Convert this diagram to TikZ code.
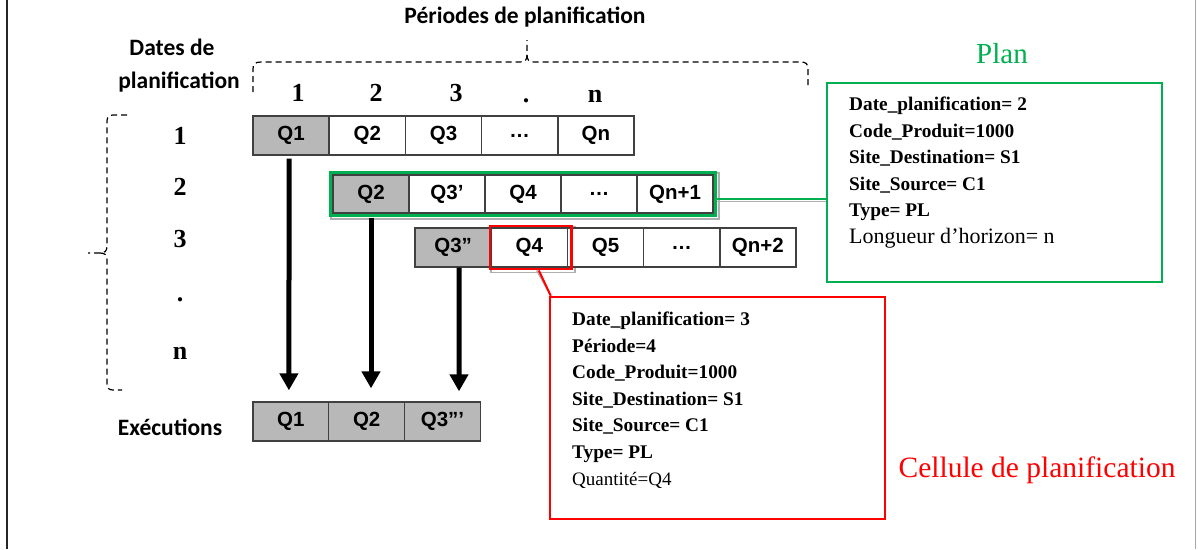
\documentclass[tikz,border=0pt]{standalone}
\usepackage{fontspec}
\setmainfont{Liberation Serif}
\newfontfamily\calibfont{Carlito}
\newfontfamily\arialfont{Liberation Sans}
\usetikzlibrary{arrows.meta,fit,calc,backgrounds}
\definecolor{plangreen}{RGB}{0,176,80}
\definecolor{cellred}{RGB}{255,0,0}
\definecolor{cellgray}{RGB}{184,184,184}
\definecolor{celledge}{RGB}{64,64,64}
\definecolor{shadowgray}{RGB}{175,175,175}
\begin{document}
\begin{tikzpicture}[x=1pt,y=-1pt,
  cell/.style={draw=celledge, line width=1.3pt, fill=white, minimum width=76pt, minimum height=39pt, inner sep=0pt, font=\arialfont\bfseries\fontsize{20.5}{24}\selectfont},
  gcell/.style={cell, fill=cellgray},
  lbl/.style={font=\calibfont\bfseries\fontsize{23.5}{28}\selectfont, inner sep=0pt},
  num/.style={font=\bfseries\fontsize{26}{30}\selectfont, inner sep=0pt},
  bigarrow/.style={line width=5pt, -{Triangle[width=18pt,length=17pt]}},
  bracestyle/.style={line width=1.2pt, dash pattern=on 6pt off 4pt},
  infotext/.style={anchor=north west, inner sep=0pt, align=left, font=\bfseries\fontsize{19.3}{26.6}\selectfont},
  shadowline/.style={draw=shadowgray, line width=1.6pt}
]
\useasboundingbox (0,0) rectangle (1198,549);
% page borders
\draw[line width=2pt, black!85] (7,0) -- (7,549);
\draw[line width=1pt, black!35] (1195.5,0) -- (1195.5,549);

% headings
\node[lbl, anchor=base] (titleper) at (525,23) {Périodes de planification};
\node[lbl, anchor=base] (titledates1) at (172,55) {Dates de};
\node[lbl, anchor=base] (titledates2) at (179,88) {planification};
\node[lbl, anchor=base] (titleexec) at (170,435) {Exécutions};

% column numbers
\node[num] (col1) at (298,93) {1};
\node[num] (col2) at (376,93) {2};
\node[num] (col3) at (456,93) {3};
\node[num, anchor=base] (col4) at (526,102) {.};
\node[num, anchor=base] (col5) at (595,102) {n};

% row numbers
\node[num] (row1) at (180,136) {1};
\node[num] (row2) at (180,187) {2};
\node[num] (row3) at (180,239) {3};
\node[num, anchor=base] (row4) at (180,301) {.};
\node[num, anchor=base] (row5) at (180,359) {n};

% braces
\draw[bracestyle] (253,92) -- (253,69) .. controls (253,64) and (255,62) .. (261,62) -- (520,62) .. controls (525,62) and (527,60) .. (527,55) -- (527,40);
\draw[bracestyle] (527,55) .. controls (527,60) and (529,62) .. (534,62) -- (801,62) .. controls (806,62) and (808,64) .. (808,69) -- (808,88);
\draw[bracestyle] (127,115) -- (113,115) .. controls (109,115) and (107,117) .. (107,121) -- (107,246) .. controls (107,251) and (105,253) .. (100,253) -- (88,253);
\draw[bracestyle] (100,253) .. controls (105,253) and (107,255) .. (107,260) -- (107,384) .. controls (107,388) and (109,390) .. (113,390) -- (122,390);

% row 1
\node[gcell] (r1c1) at (291.1,135.5) {Q1};
\node[cell]  (r1c2) at (367.3,135.5) {Q2};
\node[cell]  (r1c3) at (443.5,135.5) {Q3};
\node[cell]  (r1c4) at (519.7,135.5) {…};
\node[cell]  (r1c5) at (595.9,135.5) {Qn};
% row 2
\node[gcell, minimum height=38pt] (r2c1) at (371,194) {Q2};
\node[cell, minimum height=38pt]  (r2c2) at (447,194) {Q3’};
\node[cell, minimum height=38pt]  (r2c3) at (523,194) {Q4};
\node[cell, minimum height=38pt]  (r2c4) at (599,194) {…};
\node[cell, minimum height=38pt]  (r2c5) at (675,194) {Qn+1};
% row 3
\node[gcell] (r3c1) at (453.1,247.5) {Q3”};
\node[cell]  (r3c2) at (529.3,247.5) {Q4};
\node[cell]  (r3c3) at (605.5,247.5) {Q5};
\node[cell]  (r3c4) at (681.7,247.5) {…};
\node[cell]  (r3c5) at (757.9,247.5) {Qn+2};
% executions
\node[gcell] (e1) at (290.9,421.5) {Q1};
\node[gcell] (e2) at (366.7,421.5) {Q2};
\node[gcell] (e3) at (442.5,421.5) {Q3”’};

% selections
\node[fit=(r2c1)(r2c5), inner sep=2pt, draw=plangreen, line width=2.5pt] (gsel) {};
\node[fit=(r3c2), inner xsep=2pt, inner ysep=1.5pt, xshift=1.5pt, draw=cellred, line width=2.5pt] (rsel) {};

% info boxes
\node[draw=plangreen, line width=2.5pt, minimum width=335pt, minimum height=199pt, inner sep=0pt] (plan) at (994.5,182.5) {};
\node[infotext] (plantext) at (849,96.8) {Date\_planification= 2\\Code\_Produit=1000\\Site\_Destination= S1\\Site\_Source= C1\\Type= PL\\{\mdseries\fontsize{22}{26.6}\selectfont Longueur d’horizon= n}};
\node[draw=cellred, line width=2.5pt, minimum width=335pt, minimum height=222pt, inner sep=0pt] (cellbox) at (717.5,408) {};
\node[infotext] (celltext) at (572,311.8) {Date\_planification= 3\\Période=4\\Code\_Produit=1000\\Site\_Destination= S1\\Site\_Source= C1\\Type= PL\\{\mdseries\fontsize{19}{26.6}\selectfont Quantité=Q4}};

\node[inner sep=0pt, anchor=base, text=plangreen, font=\fontsize{29}{34}\selectfont] (plantitle) at (1002,63) {Plan};
\node[inner sep=0pt, anchor=base, text=cellred, font=\fontsize{29.5}{34}\selectfont] (celltitle) at (1037,477) {Cellule de planification};

% shadows
\begin{scope}[on background layer]
\draw[shadowline] ($(gsel.north west)+(2,2)$) rectangle ($(gsel.south east)+(2,2)$);
\draw[shadowline] ($(rsel.north west)+(2,2)$) rectangle ($(rsel.south east)+(2,2)$);
\draw[shadowline] ([yshift=-7.5pt]gsel.east) -- ([yshift=-7.5pt]gsel.east -| plan.west);
\draw[shadowline] ([xshift=6pt]rsel.south) -- ([xshift=2pt]cellbox.north west);
\end{scope}

% connectors
\draw[plangreen, line width=2pt] ([yshift=-5pt]gsel.east) -- ([yshift=-5pt]gsel.east -| plan.west);
\draw[cellred, line width=2pt] ([xshift=8pt]rsel.south) -- ([xshift=2pt]cellbox.north west);

% arrows
\draw[bigarrow] ([xshift=-2pt,yshift=-3pt]r1c1.south) -- ([xshift=-2pt,yshift=11pt]e1.north);
\draw[bigarrow] ([yshift=-4pt]r2c1.south) -- ([xshift=4.3pt,yshift=13pt]e2.north);
\draw[bigarrow] ([xshift=6pt]r3c1.south) -- ([xshift=16.5pt,yshift=10pt]e3.north);
\end{tikzpicture}
\end{document}
